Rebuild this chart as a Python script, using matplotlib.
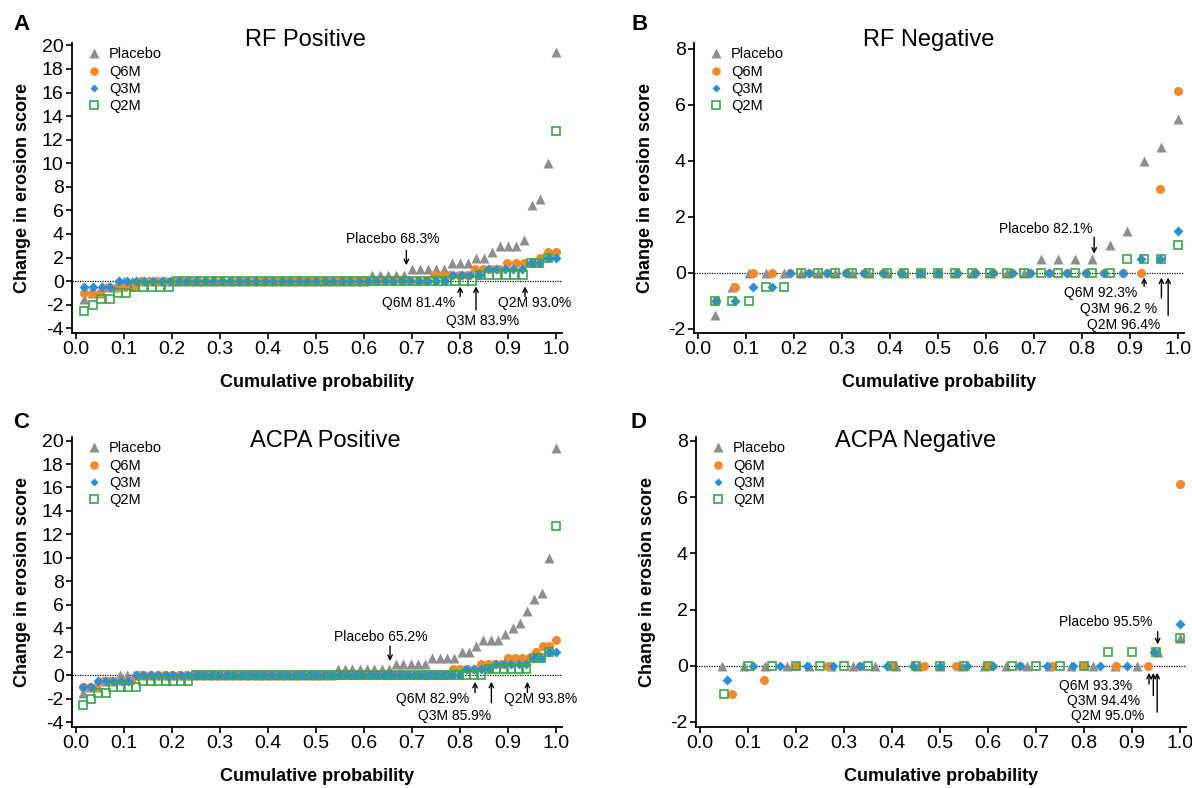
import numpy as np
import matplotlib
matplotlib.use("Agg")
import matplotlib.pyplot as plt

plt.rcParams["font.family"] = ["Liberation Sans", "DejaVu Sans"]
plt.rcParams["axes.unicode_minus"] = False

GROUPS = ["Placebo", "Q6M", "Q3M", "Q2M"]

# Sorted change in erosion score per patient, stored as value -> number of patients
# (A) RF positive
RFPOS_PLACEBO_VAL = [-1.5, -1, -0.5, 0, 0.5, 1, 1.5, 2, 2.5, 3, 3.5, 6.5, 7, 10, 19.4]
RFPOS_PLACEBO_CNT = [1, 2, 2, 31, 5, 5, 3, 2, 1, 3, 1, 1, 1, 1, 1]
RFPOS_Q6M_VAL = [-1, -0.5, 0, 0.5, 1, 1.5, 2, 2.5]
RFPOS_Q6M_CNT = [3, 4, 36, 5, 4, 4, 1, 2]
RFPOS_Q3M_VAL = [-0.5, 0, 0.5, 1, 1.5, 2]
RFPOS_Q3M_CNT = [4, 39, 4, 5, 2, 2]
RFPOS_Q2M_VAL = [-2.5, -2, -1.5, -1, -0.5, 0, 0.5, 1.5, 2, 12.7]
RFPOS_Q2M_CNT = [1, 1, 2, 2, 5, 36, 6, 2, 1, 1]

# (B) RF negative
RFNEG_PLACEBO_VAL = [-1.5, -0.5, 0, 0.5, 1, 1.5, 4, 4.5, 5.5]
RFNEG_PLACEBO_CNT = [1, 1, 17, 4, 1, 1, 1, 1, 1]
RFNEG_Q6M_VAL = [-1, -0.5, 0, 3, 6.5]
RFNEG_Q6M_CNT = [1, 1, 22, 1, 1]
RFNEG_Q3M_VAL = [-1, -0.5, 0, 0.5, 1.5]
RFNEG_Q3M_CNT = [2, 2, 19, 2, 1]
RFNEG_Q2M_VAL = [-1, -0.5, 0, 0.5, 1]
RFNEG_Q2M_CNT = [3, 2, 19, 3, 1]

# (C) ACPA positive
ACPAPOS_PLACEBO_VAL = [-1.5, -1, -0.5, 0, 0.5, 1, 1.5, 2, 2.5, 3, 3.5, 4, 4.5, 5.5, 6.5, 7, 10, 19.4]
ACPAPOS_PLACEBO_CNT = [1, 2, 2, 30, 8, 5, 4, 2, 1, 3, 1, 1, 1, 1, 1, 1, 1, 1]
ACPAPOS_Q6M_VAL = [-1, -0.5, 0, 0.5, 1, 1.5, 2, 2.5, 3]
ACPAPOS_Q6M_CNT = [3, 5, 46, 4, 4, 4, 1, 2, 1]
ACPAPOS_Q3M_VAL = [-1, -0.5, 0, 0.5, 1, 1.5, 2]
ACPAPOS_Q3M_CNT = [2, 5, 44, 4, 5, 2, 2]
ACPAPOS_Q2M_VAL = [-2.5, -2, -1.5, -1, -0.5, 0, 0.5, 1.5, 2, 12.7]
ACPAPOS_Q2M_CNT = [1, 1, 2, 4, 7, 39, 6, 2, 1, 1]

# (D) ACPA negative
ACPANEG_PLACEBO_VAL = [0, 0.5, 1]
ACPANEG_PLACEBO_CNT = [20, 1, 1]
ACPANEG_Q6M_VAL = [-1, -0.5, 0, 6.45]
ACPANEG_Q6M_CNT = [1, 1, 12, 1]
ACPANEG_Q3M_VAL = [-0.5, 0, 0.5, 1.5]
ACPANEG_Q3M_CNT = [1, 15, 1, 1]
ACPANEG_Q2M_VAL = [-1, 0, 0.5, 1]
ACPANEG_Q2M_CNT = [1, 15, 3, 1]

# proportion of patients with change <= 0.5, per panel
PCT_LABELS_A = ["Placebo 68.3%", "Q6M 81.4%", "Q3M 83.9%", "Q2M 93.0%"]
PCT_LABELS_B = ["Placebo 82.1%", "Q6M 92.3%", "Q3M 96.2 %", "Q2M 96.4%"]
PCT_LABELS_C = ["Placebo 65.2%", "Q6M 82.9%", "Q3M 85.9%", "Q2M 93.8%"]
PCT_LABELS_D = ["Placebo 95.5%", "Q6M 93.3%", "Q3M 94.4%", "Q2M 95.0%"]

X_TICKS = [0.0, 0.1, 0.2, 0.3, 0.4, 0.5, 0.6, 0.7, 0.8, 0.9, 1.0]
Y_TICKS_POS = [-4, -2, 0, 2, 4, 6, 8, 10, 12, 14, 16, 18, 20]
Y_TICKS_NEG = [-2, 0, 2, 4, 6, 8]

STYLE = {
    "Placebo": dict(marker="^", ms=7, color="#8e8e8e", mec="none"),
    "Q6M": dict(marker="o", ms=6.5, color="#f28a2b", mec="none"),
    "Q3M": dict(marker="D", ms=4.6, color="#2b8fd8", mec="none"),
    "Q2M": dict(marker="s", ms=6.2, color="#3aa64a", mfc="none", mec="#3aa64a", mew=1.2),
}

W, H = 1192, 788


def cum_points(values, counts):
    y = np.repeat(np.asarray(values, float), counts)
    x = np.arange(1, len(y) + 1) / len(y)
    return x, y


def draw_panel(ax, series, yticks, ylim, labels, annot):
    ax.axhline(0, color="black", ls=(0, (1, 1)), lw=0.9, zorder=1)
    for g, (vals, cnts) in zip(GROUPS, series):
        x, y = cum_points(vals, cnts)
        ax.plot(x, y, ls="none", label=g, zorder=3, **STYLE[g])
    # arrows + percentage labels
    for lab, (tx, ty, axx, tail, tip) in zip(labels, annot):
        ax.annotate("", xy=(axx, tip), xytext=(axx, tail),
                    arrowprops=dict(arrowstyle="->", lw=1.0, color="black",
                                    shrinkA=0, shrinkB=0, mutation_scale=8),
                    zorder=5)
        ax.text(tx, ty, lab, ha="center", va="center", fontsize=10, zorder=5)
    ax.set_xlim(-0.008, 1.012)
    ax.set_ylim(*ylim)
    ax.set_xticks(X_TICKS)
    ax.set_xticklabels([f"{t:.1f}" for t in X_TICKS])
    ax.set_yticks(yticks)
    for s in ("top", "right"):
        ax.spines[s].set_visible(False)
    for s in ("left", "bottom"):
        ax.spines[s].set_linewidth(1.3)
    ax.tick_params(direction="out", length=4, width=1.2, labelsize=14, pad=2)
    ax.set_xlabel("Cumulative probability", fontsize=13, fontweight="bold")
    ax.xaxis.set_label_coords(0.5, -0.14)
    ax.set_ylabel("Change in erosion score", fontsize=13, fontweight="bold", va="center")
    ax.yaxis.set_label_coords(-0.1, 0.5)
    ax.legend(loc="upper left", bbox_to_anchor=(0.01, 1.02), frameon=False,
              fontsize=10.5, handlelength=1.0, handletextpad=0.5,
              labelspacing=0.22, borderaxespad=0.3, markerscale=0.95)


fig = plt.figure(figsize=(W / 100, H / 100), dpi=100)

ax_a = fig.add_axes([72 / W, 1 - 333 / H, 490 / W, 290 / H])
ax_b = fig.add_axes([694 / W, 1 - 333 / H, 490 / W, 290 / H])
ax_c = fig.add_axes([72 / W, 1 - 727 / H, 490 / W, 290 / H])
ax_d = fig.add_axes([696 / W, 1 - 727 / H, 490 / W, 290 / H])

# (text x, text y, arrow x, arrow tail y, arrow tip y) in data units
draw_panel(ax_a,
           [(RFPOS_PLACEBO_VAL, RFPOS_PLACEBO_CNT), (RFPOS_Q6M_VAL, RFPOS_Q6M_CNT),
            (RFPOS_Q3M_VAL, RFPOS_Q3M_CNT), (RFPOS_Q2M_VAL, RFPOS_Q2M_CNT)],
           Y_TICKS_POS, (-4.4, 20.2), PCT_LABELS_A,
           [(0.66, 3.55, 0.688, 2.6, 1.35),
            (0.714, -1.86, 0.80, -1.3, -0.45),
            (0.846, -3.4, 0.833, -2.45, -0.45),
            (0.956, -1.86, 0.935, -1.3, -0.45)])

draw_panel(ax_b,
           [(RFNEG_PLACEBO_VAL, RFNEG_PLACEBO_CNT), (RFNEG_Q6M_VAL, RFNEG_Q6M_CNT),
            (RFNEG_Q3M_VAL, RFNEG_Q3M_CNT), (RFNEG_Q2M_VAL, RFNEG_Q2M_CNT)],
           Y_TICKS_NEG, (-2.15, 8.2), PCT_LABELS_B,
           [(0.725, 1.55, 0.825, 1.27, 0.68),
            (0.838, -0.71, 0.929, -0.48, -0.17),
            (0.875, -1.31, 0.965, -0.9, -0.17),
            (0.887, -1.87, 0.979, -1.52, -0.17)])

draw_panel(ax_c,
           [(ACPAPOS_PLACEBO_VAL, ACPAPOS_PLACEBO_CNT), (ACPAPOS_Q6M_VAL, ACPAPOS_Q6M_CNT),
            (ACPAPOS_Q3M_VAL, ACPAPOS_Q3M_CNT), (ACPAPOS_Q2M_VAL, ACPAPOS_Q2M_CNT)],
           Y_TICKS_POS, (-4.4, 20.3), PCT_LABELS_C,
           [(0.634, 3.26, 0.654, 2.5, 1.22),
            (0.742, -2.04, 0.831, -1.47, -0.55),
            (0.789, -3.46, 0.865, -2.33, -0.55),
            (0.968, -2.04, 0.94, -1.47, -0.55)])

draw_panel(ax_d,
           [(ACPANEG_PLACEBO_VAL, ACPANEG_PLACEBO_CNT), (ACPANEG_Q6M_VAL, ACPANEG_Q6M_CNT),
            (ACPANEG_Q3M_VAL, ACPANEG_Q3M_CNT), (ACPANEG_Q2M_VAL, ACPANEG_Q2M_CNT)],
           Y_TICKS_NEG, (-2.18, 8.14), PCT_LABELS_D,
           [(0.844, 1.55, 0.953, 1.21, 0.76),
            (0.824, -0.71, 0.935, -0.65, -0.25),
            (0.84, -1.26, 0.944, -1.06, -0.25),
            (0.848, -1.8, 0.952, -1.65, -0.25)])

# panel titles and letters
for txt, x, y in [("RF Positive", 305, 40), ("RF Negative", 929, 40),
                  ("ACPA Positive", 325, 441), ("ACPA Negative", 916, 441)]:
    fig.text(x / W, 1 - y / H, txt, ha="center", va="center", fontsize=17)
for txt, x, y in [("A", 21, 24), ("B", 640, 24), ("C", 21, 422), ("D", 639, 423)]:
    fig.text(x / W, 1 - y / H, txt, ha="center", va="center", fontsize=16,
             fontweight="bold")

fig.savefig("out.png", dpi=100)
